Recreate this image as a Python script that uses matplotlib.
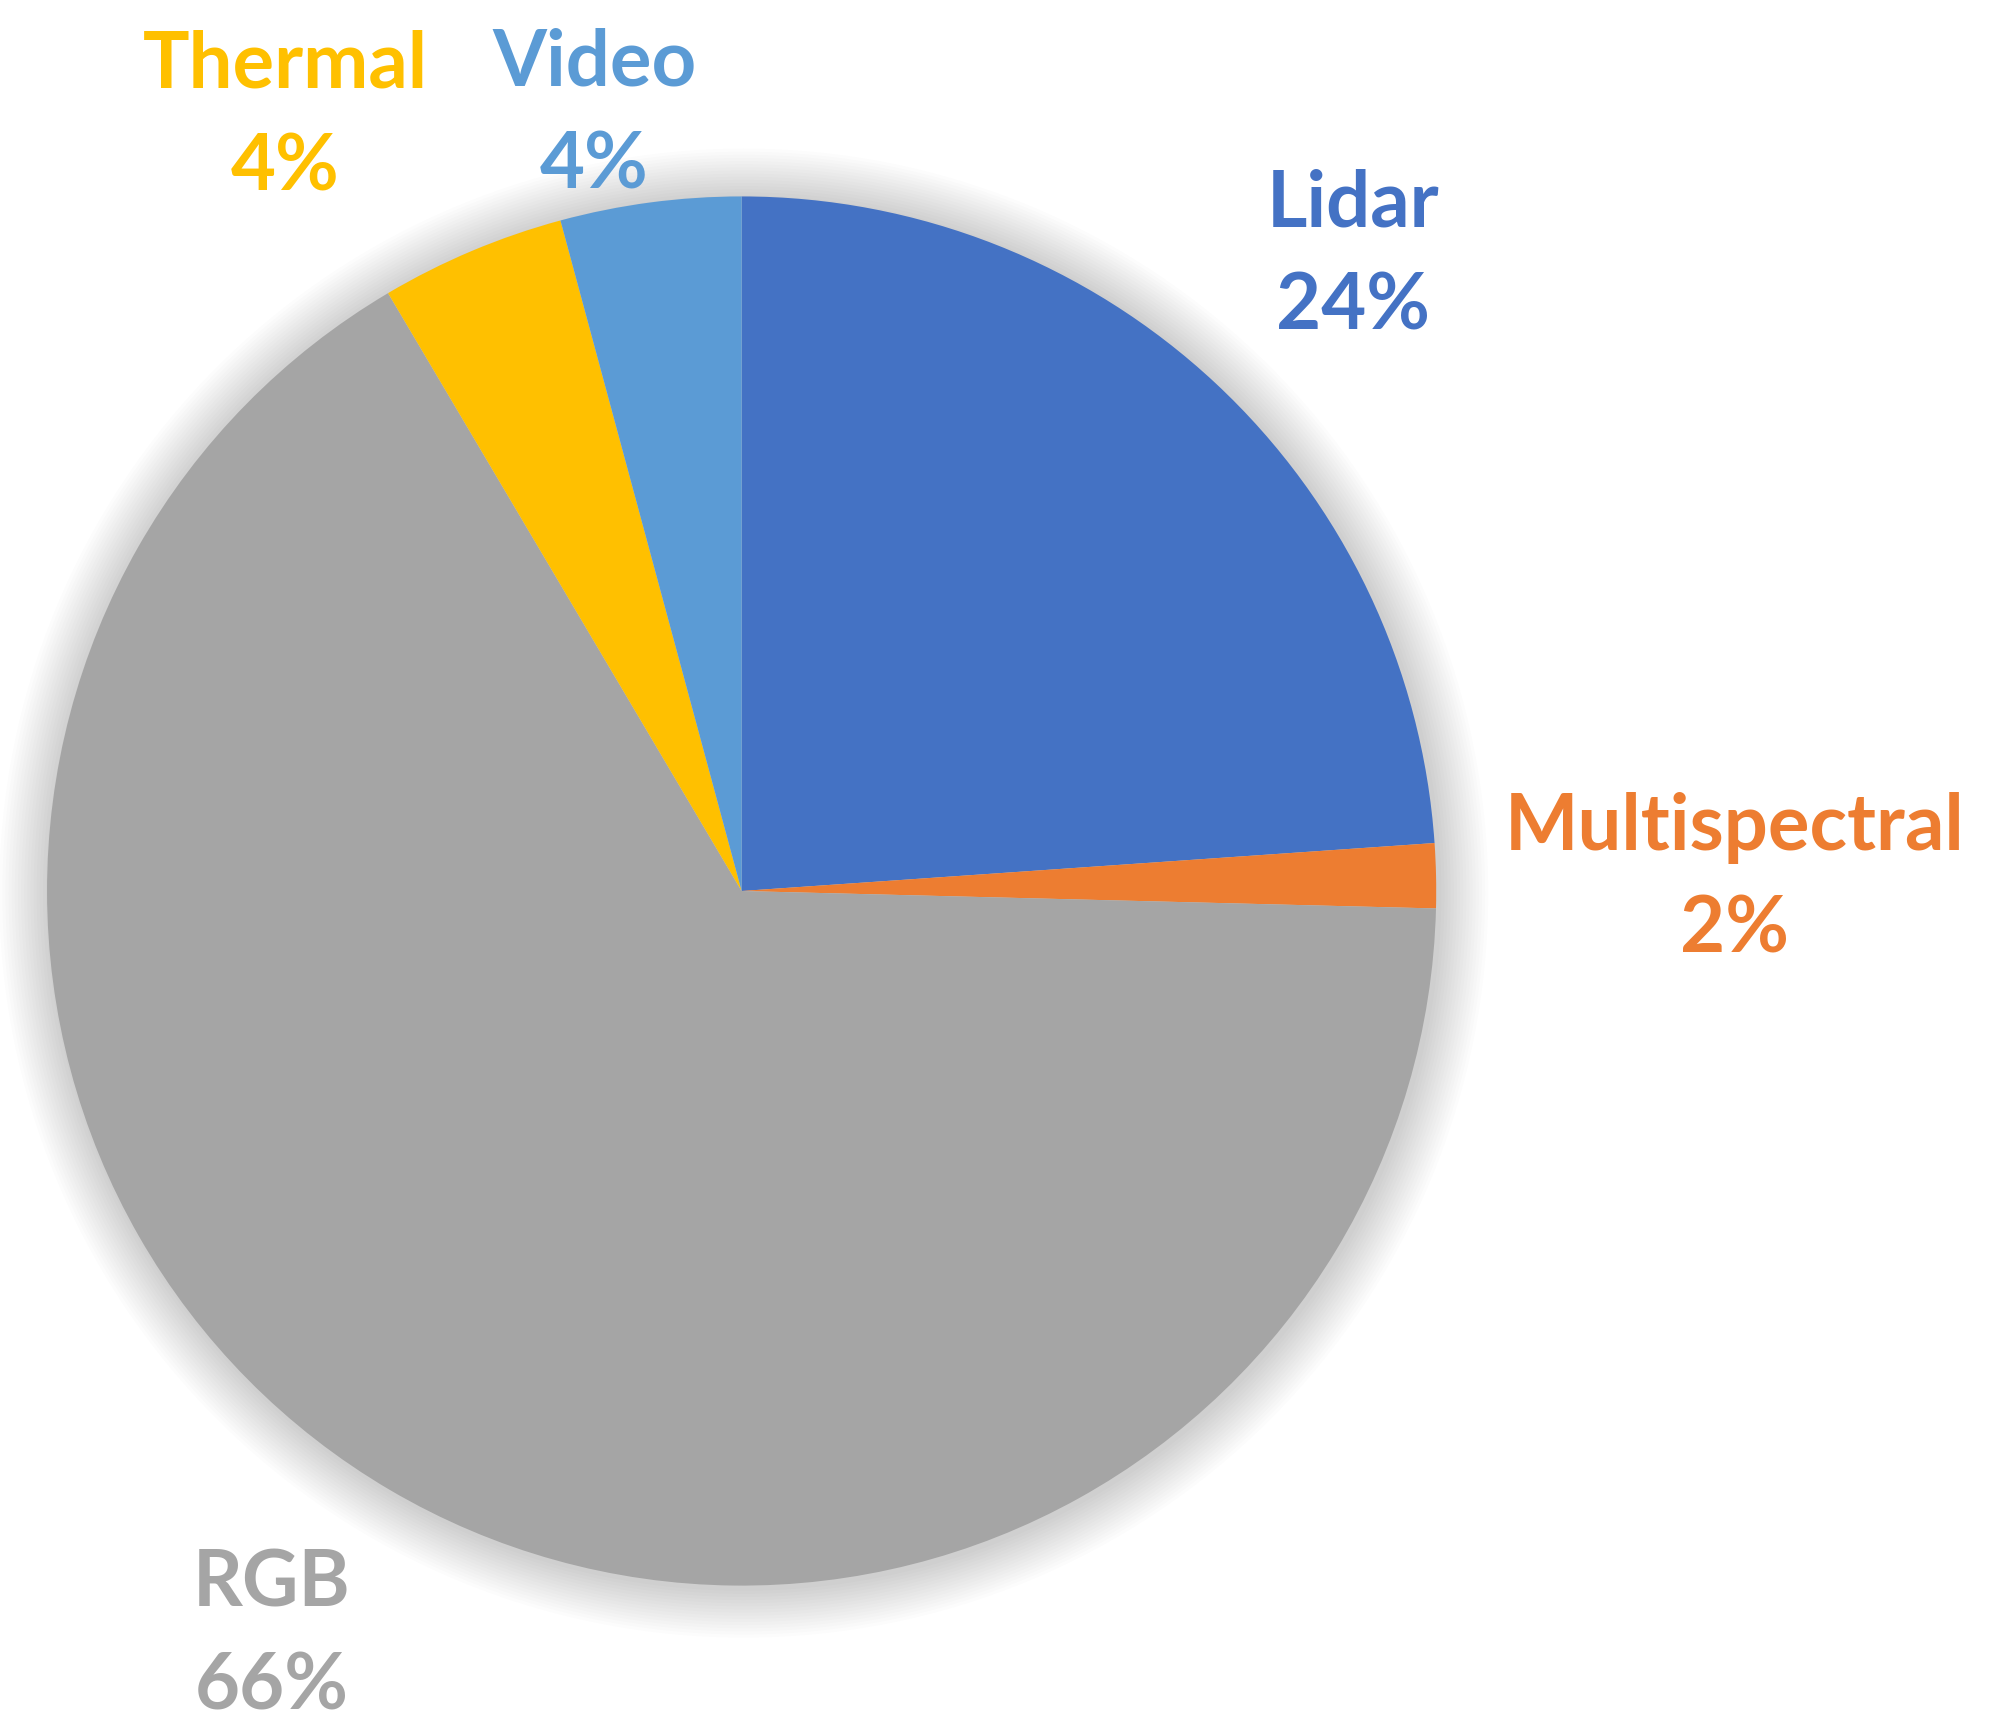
import numpy as np
import matplotlib
matplotlib.use('Agg')
import matplotlib.pyplot as plt
from matplotlib.patches import Circle

# data
sensors = ['Lidar', 'Multispectral', 'RGB', 'Thermal', 'Video']
shares = [23.9, 1.5, 66.1, 4.3, 4.2]
pct_labels = ['24%', '2%', '66%', '4%', '4%']
colors = ['#4472C4', '#ED7D31', '#A5A5A5', '#FFC000', '#5B9BD5']

# label block centres, in units of the pie radius
label_pos = [(0.88, 0.914), (1.43, 0.017), (-0.677, -1.073), (-0.657, 1.114), (-0.212, 1.117)]

fig = plt.figure(figsize=(19.91, 17.35), dpi=100)
ax = fig.add_axes([0, 0, 1, 1])

# soft shadow round the pie
for k in range(16):
    r = 1.0 + 0.0045 * (k + 1)
    ax.add_patch(Circle((0.003, -0.003), r, color='black', alpha=0.010, lw=0, zorder=0))

ax.pie(shares, colors=colors, startangle=90, counterclock=False,
       wedgeprops={'linewidth': 0, 'zorder': 1}, radius=1.0)

for name, pct, col, (x, y) in zip(sensors, pct_labels, colors, label_pos):
    ax.text(x, y + 0.074, name, color=col, fontsize=56, fontweight='bold',
            family='Lato', ha='center', va='center')
    ax.text(x, y - 0.074, pct, color=col, fontsize=56, fontweight='bold',
            family='Lato', ha='center', va='center')

ax.set_xlim(-1.0677, 1.7987)
ax.set_ylim(-1.2151, 1.2828)
ax.set_aspect('equal')
ax.axis('off')

fig.savefig('out.png', dpi=100)
